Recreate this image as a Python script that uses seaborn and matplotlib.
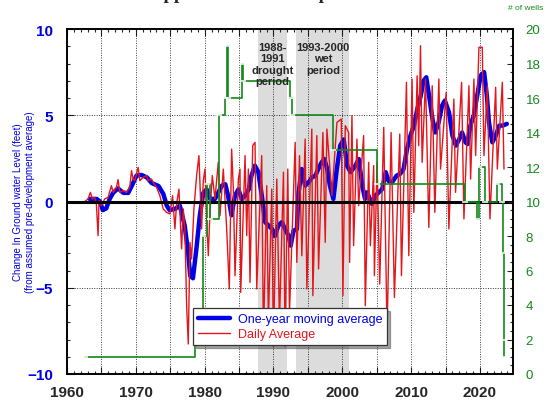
import matplotlib
matplotlib.use("Agg")
import matplotlib.pyplot as plt
import seaborn as sns
from matplotlib.ticker import MultipleLocator, FuncFormatter

# One-year moving average of water level change (feet)
blue_year = [1963.3, 1964.3, 1964.8, 1965.2, 1965.7, 1966.2, 1966.7, 1967.4, 1968.2, 1968.9,
             1969.4, 1970.1, 1970.8, 1971.6, 1972.3, 1973.3, 1974.0, 1974.5, 1974.9, 1975.7,
             1976.4, 1977.1, 1977.6, 1977.9, 1978.3, 1978.8, 1979.3, 1979.8, 1980.3, 1980.8,
             1981.5, 1982.5, 1983.0, 1983.4, 1983.9, 1984.4, 1984.9, 1985.4, 1985.9, 1986.4,
             1986.8, 1987.3, 1987.8, 1988.3, 1988.8, 1989.3, 1989.8, 1990.2, 1990.7, 1991.2,
             1991.7, 1992.2, 1992.5, 1992.9, 1993.4, 1993.6, 1994.1, 1994.6, 1995.1, 1995.6,
             1996.1, 1996.5, 1997.0, 1997.4, 1997.8, 1998.2, 1998.7, 1999.2, 1999.7, 2000.2,
             2000.7, 2001.2, 2001.9, 2002.4, 2002.9, 2003.3, 2003.6, 2004.3, 2004.8, 2005.3,
             2005.8, 2006.3, 2006.7, 2007.2, 2007.9, 2008.4, 2008.9, 2009.4, 2009.9, 2010.4,
             2010.9, 2011.4, 2011.8, 2012.2, 2012.6, 2013.1, 2013.5, 2014.0, 2014.5, 2014.9,
             2015.5, 2016.0, 2016.5, 2017.0, 2017.4, 2017.9, 2018.2, 2018.6, 2019.1, 2019.6,
             2020.1, 2020.6, 2021.0, 2021.3, 2021.8, 2022.3, 2022.8, 2023.3, 2023.9]
blue_val = [0.15, 0.15, 0.0, -0.5, -0.4, 0.15, 0.5, 0.76, 0.5, 0.5,
            0.9, 1.5, 1.54, 1.4, 1.07, 0.9, 0.43, -0.24, -0.5, -0.43,
            -0.24, -1.4, -2.95, -4.3, -4.45, -2.75, -0.8, 0.5, 0.7, 0.15,
            0.15, 0.92, 1.0, 0.34, -0.8, 0.34, 0.7, 0.15, 0.34, 0.7,
            1.5, 2.08, 1.7, 0.34, -1.2, -1.4, -1.6, -2.0, -1.4, -1.2,
            -1.6, -2.0, -2.56, -1.7, -1.6, 0.34, 1.88, 0.92, 1.1, 1.4,
            1.5, 1.88, 2.27, 2.46, 1.88, 0.92, 0.15, 1.88, 3.24, 3.6,
            2.08, 1.7, 2.08, 2.46, 0.92, 0.15, 0.53, -0.14, 0.34, 0.53,
            0.72, 1.7, 1.2, 1.1, 1.5, 1.6, 1.88, 3.04, 3.82, 4.4,
            5.36, 6.14, 7.0, 7.2, 6.14, 4.78, 4.0, 4.6, 5.56, 5.85,
            5.17, 3.82, 3.24, 3.62, 4.0, 3.43, 3.33, 4.4, 4.98, 6.14,
            7.3, 7.5, 6.14, 4.6, 3.43, 3.82, 4.4, 4.4, 4.5]

# Daily average water level change (feet)
red_year = [1962.57, 1963.06, 1963.4, 1963.69, 1964.03, 1964.27, 1964.51, 1964.66, 1965.0, 1965.48,
            1965.97, 1966.45, 1966.7, 1967.18, 1967.42, 1967.67, 1968.15, 1968.64, 1969.12, 1969.37,
            1969.61, 1969.85, 1970.34, 1970.58, 1971.07, 1971.55, 1971.79, 1972.28, 1972.52, 1973.01,
            1973.49, 1973.98, 1974.46, 1974.95, 1975.34, 1975.68, 1975.92, 1976.26, 1976.65, 1976.89,
            1977.13, 1977.38, 1977.62, 1977.86, 1978.1, 1978.44, 1978.83, 1979.17, 1979.41, 1979.56,
            1979.8, 1980.05, 1980.29, 1980.53, 1980.77, 1981.11, 1981.5, 1981.98, 1982.23, 1982.71,
            1983.2, 1983.58, 1983.92, 1984.17, 1984.41, 1984.9, 1985.14, 1985.24, 1985.87, 1986.11,
            1986.35, 1986.59, 1986.98, 1987.32, 1987.57, 1988.29, 1988.54, 1989.02, 1989.26, 1989.75,
            1989.99, 1990.48, 1990.87, 1991.45, 1991.69, 1992.08, 1992.32, 1993.15, 1993.39, 1993.78,
            1994.12, 1994.6, 1994.85, 1995.57, 1995.72, 1996.3, 1996.55, 1997.18, 1997.52, 1997.76,
            1998.49, 1999.22, 1999.85, 2000.09, 2000.43, 2000.92, 2001.06, 2001.4, 2001.64, 2002.13,
            2002.37, 2003.1, 2003.34, 2003.83, 2004.08, 2004.56, 2004.66, 2005.05, 2005.43, 2006.02,
            2006.5, 2007.09, 2007.57, 2008.35, 2008.59, 2009.32, 2009.66, 2010.14, 2010.39, 2010.87,
            2011.1, 2011.36, 2011.6, 2012.09, 2012.57, 2013.06, 2013.44, 2014.03, 2014.27, 2015.09,
            2015.48, 2016.21, 2016.45, 2017.33, 2017.67, 2018.4, 2018.64, 2019.12, 2019.37, 2019.85,
            2020.34, 2020.58, 2021.07, 2021.45, 2022.28, 2022.52, 2023.25, 2023.49]
red_val = [-0.01, 0.15, 0.53, 0.15, 0.24, -0.14, -1.98, 0.05, -0.24, 0.15,
           0.24, 0.92, 0.53, 0.82, 1.27, 0.53, 0.63, 0.53, 0.82, 1.79,
           1.3, 1.21, 1.98, 1.21, 1.4, 1.5, 1.21, 1.3, 1.11, 0.82,
           0.34, -0.43, -0.63, -0.72, 0.34, -1.59, -0.14, 0.72, -2.75, -0.43,
           -1.59, -6.04, -8.26, -2.37, -3.33, -0.43, 1.5, 2.66, -0.05, -1.59,
           1.21, 1.88, -1.01, -3.14, -0.63, 1.5, 0.15, 2.27, -0.82, 1.88,
           -1.59, -5.07, 3.04, 0.72, -4.3, 1.3, 1.88, -5.27, 2.66, -1.98,
           1.88, -4.69, 3.24, 3.43, -5.07, 2.66, -8.0, 0.92, -7.0, 0.72,
           -8.4, 1.3, -7.0, 1.7, -8.4, 1.88, -6.5, 3.43, -3.53, 2.66,
           -3.14, 3.62, -5.07, 4.2, -5.46, 3.82, -3.91, 4.0, -2.37, 4.2,
           0.34, 4.59, 4.78, -5.46, 4.4, 4.0, -3.53, 4.98, -2.56, 3.62,
           -0.24, 3.82, -6.04, 2.27, -2.56, 2.08, -4.3, 2.27, -4.78, 4.3,
           -7.68, 4.0, -5.56, 3.91, -4.3, 6.91, -3.14, 7.1, -0.63, 7.29,
           3.24, 9.03, 2.27, 7.1, -1.5, 6.71, -0.63, 7.1, 1.88, 6.33,
           -1.59, 5.94, 0.53, 6.91, -1.01, 6.71, 1.3, 7.1, 2.66, 8.94,
           8.94, 2.66, 6.71, -1.01, 6.62, 1.88, 6.91, 1.88]

# Number of wells contributing to the average
well_year = [1962.6, 1978.6, 1979.8, 1980.3, 1980.8, 1982.1, 1983.0, 1983.2, 1983.4, 1985.4,
             1985.6, 1992.4, 1992.7, 1998.7, 2005.0, 2017.8, 2019.6, 2019.85, 2020.8, 2022.5,
             2023.25, 2023.4, 2023.45, 2023.5]
wells = [1, 3, 8, 11, 9, 15, 16, 19, 16, 18,
         17, 16, 15, 13, 11, 10, 9, 12, 10, 11,
         10, 7, 2, 1]

drought = (1987.7, 1991.9)
wet = (1993.2, 2001.0)

BLUE = "#0000e6"
RED = "#e3161c"
GREEN = "#13891b"

sns.set_style("white")
plt.rcParams["font.family"] = ["Liberation Sans", "DejaVu Sans"]

fig = plt.figure(figsize=(5.5, 4.1), dpi=100)
ax = fig.add_axes([67 / 550, 1 - 375 / 410, 446 / 550, 345 / 410])

ax.axvspan(*drought, color="#dcdcdc", lw=0, zorder=0)
ax.axvspan(*wet, color="#dcdcdc", lw=0, zorder=0)
for yr in range(1965, 2025, 5):
    ax.axvline(yr, color="k", ls=(0, (1, 1.5)), lw=0.7, alpha=0.75, zorder=1)
for lvl in (-5, 5):
    ax.axhline(lvl, color="k", ls=(0, (1, 1.5)), lw=0.7, alpha=0.8, zorder=1)

sns.lineplot(x=blue_year, y=blue_val, ax=ax, color=BLUE, lw=3.2, zorder=2,
             label="One-year moving average")
sns.lineplot(x=red_year, y=red_val, ax=ax, color=RED, lw=1.0, zorder=3,
             label="Daily Average")
ax.axhline(0, color="k", lw=2.2, zorder=4)
if ax.get_legend() is not None:
    ax.get_legend().remove()

ax.set_xlim(1960, 2024.8)
ax.set_ylim(-10, 10)
ax.set_xlabel("")
ax.set_ylabel("")
ax.xaxis.set_major_locator(MultipleLocator(5))
ax.xaxis.set_minor_locator(MultipleLocator(1))
ax.xaxis.set_major_formatter(FuncFormatter(lambda v, p: f"{int(v)}" if int(v) % 10 == 0 else ""))
ax.yaxis.set_major_locator(MultipleLocator(5))
ax.yaxis.set_minor_locator(MultipleLocator(1))
ax.tick_params(axis="x", which="both", direction="in", top=True, bottom=True, width=0.8)
ax.tick_params(axis="x", which="major", length=5, pad=8, labelsize=11)
ax.tick_params(axis="x", which="minor", length=2.5)
ax.tick_params(axis="y", which="both", direction="in", left=True, right=False, width=0.8)
ax.tick_params(axis="y", which="major", length=5, pad=10, labelsize=11, labelcolor=BLUE)
ax.tick_params(axis="y", which="minor", length=2.5)
for lab in ax.get_xticklabels() + ax.get_yticklabels():
    lab.set_fontweight("bold")
for sp in ax.spines.values():
    sp.set_color("k")
    sp.set_linewidth(1.2)

ax2 = ax.twinx()
sns.lineplot(x=well_year, y=wells, ax=ax2, color=GREEN, lw=1.2, drawstyle="steps-post",
             marker="_", ms=4, mew=1.1, zorder=5)
ax2.set_ylim(0, 20)
ax2.set_ylabel("")
ax2.yaxis.set_major_locator(MultipleLocator(2))
ax2.yaxis.set_minor_locator(MultipleLocator(0.5))
ax2.tick_params(axis="y", which="both", direction="in", width=0.8)
ax2.tick_params(axis="y", which="major", length=4, pad=9, labelsize=9.5, labelcolor=GREEN)
ax2.tick_params(axis="y", which="minor", length=2.5)
for sp in ax2.spines.values():
    sp.set_color("k")
    sp.set_linewidth(1.2)

tr = ax2.get_xaxis_transform()
ax2.text(sum(drought) / 2 + 0.1, 0.962, "1988-\n1991\ndrought\nperiod", transform=tr,
         ha="center", va="top", fontsize=8, fontweight="bold", linespacing=1.15, zorder=6)
ax2.text(1997.2, 0.962, "1993-2000\nwet\nperiod", transform=tr,
         ha="center", va="top", fontsize=8, fontweight="bold", linespacing=1.15, zorder=6)

handles, labels = ax.get_legend_handles_labels()
leg = ax2.legend(handles, labels, loc="lower left", bbox_to_anchor=(0.2825, 0.084),
                 borderaxespad=0, fontsize=9, handlelength=2.6, fancybox=False,
                 shadow=True, framealpha=1, edgecolor="#333333", labelcolor="linecolor",
                 borderpad=0.4, labelspacing=0.25, handletextpad=0.6)
leg.get_frame().set_linewidth(0.9)
leg.set_zorder(10)

fig.text(24 / 550, 1 - 202 / 410,
         "Change In Ground water Level (feet)\n(from assumed pre-development average)",
         rotation=90, ha="center", va="center", fontsize=7, color=BLUE,
         multialignment="center")
fig.text(526 / 550, 1 - 9 / 410, "# of wells", ha="center", va="center",
         fontsize=6, color=GREEN)
# Title sits above the top edge; only its descenders fall inside the canvas
fig.text(0.468, 1 + 1 / 410, "Upper Floridan Composite", ha="center", va="baseline",
         fontsize=13.5, fontweight="bold", family="Liberation Serif")

fig.savefig("out.png", dpi=100)
